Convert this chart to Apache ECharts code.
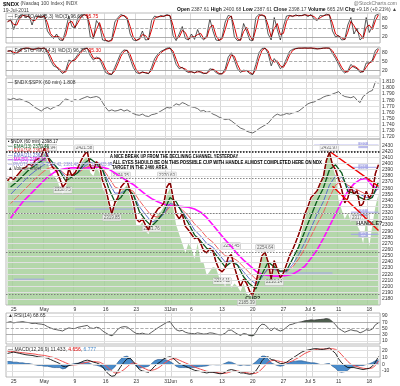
<!DOCTYPE html>
<html><head><meta charset="utf-8">
<script src="https://cdn.jsdelivr.net/npm/echarts@6/dist/echarts.min.js"></script>
<style>html,body{margin:0;padding:0;background:#fff}#c{width:400px;height:386px}</style>
</head><body><div id="c"></div>
<script>
// ---------- data ----------
const dayNames = ['Apr 21','Apr 25','Apr 26','Apr 27','Apr 28','Apr 29',
 'May 2','May 3','May 4','May 5','May 6','May 9','May 10','May 11','May 12','May 13','May 16','May 17','May 18','May 19','May 20','May 23','May 24','May 25','May 26','May 27','May 31',
 'Jun 1','Jun 2','Jun 3','Jun 6','Jun 7','Jun 8','Jun 9','Jun 10','Jun 13','Jun 14','Jun 15','Jun 16','Jun 17','Jun 20','Jun 21','Jun 22','Jun 23','Jun 24','Jun 27','Jun 28','Jun 29','Jun 30',
 'Jul 1','Jul 5','Jul 6','Jul 7','Jul 8','Jul 11','Jul 12','Jul 13','Jul 14','Jul 15','Jul 18','Jul 19'];
const tickDays = [1,6,11,16,21,26,27,30,35,40,45,49,50,54,59];
const tickText = ['25','May','9','16','23','31','Jun','6','13','20','27','Jul','5','11','18'];

const sto1K = [70,80,45,75,90,95,85,92,60,90, 88,85,95,40,25,15,30,10,8,45, 90,55,50,85,92,95,90,20,15,75,
 60,10,8,5,12,70,85,95,90,80, 30,10,8,15,40,10,12,75,90,85, 92,88,95,90,25,8,30,55,15,10,
 30,12,45,20,10,25,80,40,10,8, 20,70,92,88,20,8,10,65,40,10, 8,85,95,92,88,30,10,85,45,10,
 55,90,92,88,94,90,92,95,88,95, 80,75,92,90,96,93,40,20,25,10, 12,60,85,30,50,10,20,85,35,55, 92,96];
const sto1D = [72,75,62,60,82,92,90,88,76,75, 89,86,90,68,32,20,22,20,9,26, 68,72,52,68,88,94,92,55,18,45,
 68,35,9,6,8,41,78,90,92,85, 55,20,9,12,28,25,11,44,82,88, 88,90,92,92,58,16,19,42,35,12,
 20,21,28,32,15,18,52,60,25,9, 14,45,81,90,54,14,9,38,52,25, 9,46,90,94,90,59,20,48,65,28,
 32,72,91,90,91,92,91,94,92,92, 88,78,84,91,93,94,66,30,22,18, 11,36,72,58,40,30,15,52,60,45, 74,94];
const sto2K = [85,88,75,80,92,95,96,95,90,95, 96,94,97,80,55,35,30,18,8,20, 55,50,60,75,88,95,96,70,55,65,
 60,35,12,6,5,30,55,80,90,88, 60,30,12,8,15,10,8,30,60,75, 85,90,96,97,75,40,25,30,18,12,
 15,10,18,12,8,10,25,22,12,6, 8,25,65,80,55,25,12,20,18,8, 5,40,80,95,96,78,35,60,45,25,
 35,60,85,92,95,96,96,97,96,97, 94,93,95,96,97,96,78,60,40,20, 10,18,40,30,25,12,15,45,45,55, 88,96];
const sto2D = [86,86,82,78,86,94,96,96,92,92, 96,95,96,88,68,45,32,24,13,14, 38,52,55,68,82,92,96,83,62,60,
 62,48,24,9,6,18,42,68,85,89, 74,45,21,10,12,12,9,19,45,68, 80,88,93,96,86,58,32,28,24,15,
 14,12,14,15,10,9,18,24,17,9, 7,16,45,72,68,40,18,16,19,13, 6,22,60,88,96,87,56,48,52,35,
 30,48,72,88,94,96,96,96,96,96, 96,94,94,96,96,96,87,69,50,30, 15,14,29,35,28,18,14,30,45,50, 72,92];
const ratio = [1.782,1.781,1.783,1.781,1.782,1.780,1.778,1.776,1.772,1.768,
 1.765,1.762,1.766,1.768,1.765,1.768,1.770,1.772,1.778,1.782,
 1.780,1.778,1.781,1.779,1.782,1.784,1.786,1.784,1.785,1.786,
 1.784,1.776,1.768,1.762,1.764,1.762,1.763,1.765,1.762,1.764,
 1.761,1.758,1.756,1.755,1.757,1.754,1.753,1.756,1.757,1.759,
 1.762,1.765,1.768,1.767,1.770,1.774,1.772,1.776,1.774,1.771,
 1.769,1.768,1.766,1.762,1.763,1.760,1.761,1.757,1.755,1.752,
 1.750,1.748,1.749,1.746,1.742,1.738,1.734,1.732,1.729,1.727,
 1.726,1.729,1.733,1.736,1.739,1.742,1.748,1.754,1.757,1.755,
 1.756,1.758,1.757,1.759,1.760,1.762,1.766,1.770,1.774,1.776,
 1.777,1.780,1.782,1.785,1.787,1.788,1.790,1.792,1.794,1.789,
 1.786,1.785,1.784,1.786,1.780,1.776,1.786,1.790,1.794,1.796,
 1.810,1.808];
const price = [2372,2378,2374,2380,2386,2392,2394,2400,2396,2405,
 2408,2412,2425,2412,2400,2392,2388,2376,2362,2368,
 2392,2380,2385,2394,2405,2414,2420,2396,2388,2403,
 2398,2372,2360,2338,2318,2336,2345,2362,2368,2372,
 2355,2338,2310,2305,2310,2300,2292,2310,2318,2326,
 2330,2336,2362,2370,2345,2318,2310,2318,2298,2292,
 2285,2278,2280,2270,2258,2255,2262,2258,2240,2228,
 2224,2230,2248,2252,2232,2215,2200,2212,2205,2192,
 2186,2205,2228,2250,2256,2240,2212,2242,2228,2214,
 2222,2236,2250,2260,2272,2285,2300,2318,2330,2345,
 2350,2356,2368,2378,2405,2418,2398,2390,2375,2358,
 2336,2344,2362,2350,2356,2330,2335,2355,2344,2352,
 2384,2398];
const fillTop = [2376,2370,2372,2378,2384,2388,2390,2395,2392,2400,
 2405,2410,2418,2405,2385,2380,2375,2362,2350,2360,
 2385,2375,2378,2390,2400,2408,2410,2385,2380,2395,
 2385,2360,2350,2330,2312,2330,2340,2355,2360,2365,
 2345,2325,2300,2298,2305,2290,2285,2300,2310,2318,
 2322,2330,2350,2360,2330,2300,2285,2270,2255,2270,
 2262,2245,2270,2240,2238,2218,2225,2232,2230,2215,
 2210,2200,2215,2198,2205,2200,2192,2205,2188,2186,
 2183,2200,2225,2245,2258,2235,2208,2240,2222,2210,
 2215,2225,2230,2228,2250,2270,2290,2310,2325,2340,
 2348,2355,2365,2378,2405,2420,2395,2380,2340,2325,
 2310,2320,2305,2320,2300,2290,2270,2310,2265,2300,
 2330,2350];
// moving averages, one value per trading day
const ma50 = [2311,2325,2338,2348,2358,2368,2378,2385,2390,2392,
 2393,2393,2393,2393,2394,2394,2391,2385,2378,2372,
 2366,2358,2350,2343,2338,2334,2332,2331,2330,2329,
 2326,2321,2312,2300,2288,2276,2265,2253,2243,2234,
 2225,2220,2218,2217,2217,2218,2220,2226,2233,2246,
 2260,2278,2298,2318,2338,2355,2367,2374,2376,2364,2358];
const ema34 = [2335,2345,2355,2365,2375,2384,2392,2394,2390,2382,
 2382,2385,2392,2397,2396,2392,2378,2362,2358,2360,
 2355,2340,2327,2315,2313,2318,2330,2332,2325,2315,
 2302,2292,2280,2272,2260,2250,2248,2242,2232,2222,
 2212,2218,2228,2228,2225,2224,2232,2245,2262,2282,
 2302,2320,2345,2365,2372,2365,2360,2355,2350,2350,2361];
const ema21 = [2350,2360,2370,2380,2388,2395,2402,2398,2390,2378,
 2380,2385,2395,2402,2398,2390,2370,2352,2352,2358,
 2350,2330,2317,2305,2308,2318,2335,2333,2322,2308,
 2292,2282,2270,2264,2252,2240,2242,2236,2224,2212,
 2204,2215,2230,2228,2224,2224,2236,2252,2272,2295,
 2318,2338,2365,2380,2378,2362,2356,2350,2345,2346,2362];
const ema13 = [2362,2370,2380,2390,2397,2404,2412,2400,2388,2372,
 2378,2386,2400,2408,2400,2390,2360,2338,2345,2360,
 2350,2322,2308,2298,2308,2322,2345,2338,2320,2303,
 2284,2274,2262,2258,2245,2232,2240,2235,2216,2204,
 2196,2220,2240,2232,2225,2226,2245,2265,2290,2315,
 2340,2360,2390,2398,2385,2355,2352,2345,2340,2345,2370];
const levelPrices = [2419, 2376, 2320, 2256, 2187];
const pivotSegs = [[0,12,2406],[0,4,2359],[2,12,2338],[2,12,2212],[22,42,2326],[80,98,2239],[90,106,2222],
 [100,121,2430],[100,112,2410],[112,121,2394],[112,121,2321],[112,121,2285]];
const pivotTags = [[116,2430,'R2'],[116,2394,'R1'],[116,2321,'S1'],[116,2285,'S2']];
const channelUpper = [[105,2420],[121,2363]];
const channelLower = [[106,2363],[121,2291]];
const priceTags = [[13,2426,'2426.94'],[25,2425,'2421.58'],[18,2357,'2358.75'],[37,2381,'2374.35'],[52,2381,'2370.63'],
 [34,2312,'2319.85'],[47,2294,'2291.76'],[73,2266,'2252.45'],[70,2209,'2214.11'],[78,2174,'2185.39'],
 [84,2263,'2254.64'],[87,2207,'2210.14'],[105,2426,'2431.97'],[115,2312,'2317.79']];
const noteTags = [[80,2180,'CUP?'],[118,2303,'HANDLE?']];
const rsi = [70,72,68,70,71,72,70,69,66,67, 65,64,62,56,52,48,46,44,42,48, 52,50,50,54,56,58,60,52,50,54,
 52,42,36,30,27,36,48,54,56,55, 48,40,34,33,35,32,31,38,45,52, 58,64,70,72,58,46,42,44,38,35,
 34,33,36,34,32,33,36,35,32,30, 30,35,44,45,38,32,28,34,32,27, 26,38,55,64,62,52,42,52,46,42,
 46,54,62,64,68,70,72,75,76,78, 77,78,79,80,82,80,72,62,50,44, 38,42,46,43,42,36,40,46,44,48, 62,68];
const macd = [16,17,18,17,16,15,14,13.5,13,12, 11,10.5,10,9,7,5,3,1,-3,-4, -2,-1,0,1,3,5,6,5,3,2,
 0,-4,-10,-15,-18,-17,-10,-3,3,8, 9,4,-2,-8,-10,-11,-12,-8,-3,1, 4,8,10,11,9,5,1,-1,-3,-5,
 -7,-9,-10,-11,-12,-13,-12,-12,-13,-14, -14,-12,-9,-8,-9,-11,-13,-13,-14,-15, -14,-10,-3,5,10,11,7,6,3,1,
 1,3,6,9,12,15,18,20,21,22, 23,23,22,22,23,24,20,16,8,2, -2,-5,-5,-5,-6,-7,-8,-7,-6,-3, 3,11.4];
const macdSignal = [19,19,18.5,18,17.5,17,16.5,16,15.5,15, 14,13.5,13,12,11,10,8,6,4,2, 0,-1,-1,-0.5,0.5,2,3,4,4,3.5,
 3,1,-2,-6,-10,-13,-13,-11,-8,-4, 0,2,1,-2,-5,-7,-9,-9,-8,-6, -3,1,4,7,8,8,6,4,2,0,
 -2,-4,-6,-7.5,-9,-10.5,-11,-11.5,-12,-13, -13.5,-13.5,-12.5,-11,-10,-10,-11,-12,-12.5,-13.5, -14,-13.5,-11,-7,-2,3,5,6,5,4,
 3,2.5,3.5,5,7.5,10,13,16,18,20, 21,22,22.5,22.5,22.5,23,23,22,19,14, 9,4,0,-2,-3.5,-5,-6,-6.5,-6.5,-5.5, -2,4.66];
const macdHist = [4,4,3,3,2,2,1,1,0,-1, -2,-2,-3,-3,-4,-5,-5,-5,-7,-6, -2,0,1,1.5,2.5,3,3,1,-1,-1.5,
 -3,-5,-8,-9,-8,-4,3,8,11,12, 9,2,-3,-6,-5,-4,-3,1,5,7, 7,7,6,4,1,-3,-5,-5,-5,-5,
 -5,-5,-4,-3.5,-3,-2.5,-1,-0.5,-1,-1, -0.5,1.5,3.5,3,1,-1,-2,-1,-1.5,-1.5, 0,3.5,8,12,12,8,2,0,-2,-3,
 -2,0.5,2.5,4,4.5,5,5,4,3,2, 2,1,-0.5,-0.5,0.5,1,-3,-6,-11,-12, -11,-9,-5,-3,-2.5,-2,-2,-0.5,0.5,2.5, 5,6.78];
const stoTicks = [20,50,80];
const ratioTicks = [1.72,1.73,1.74,1.75,1.76,1.77,1.78,1.79,1.80,1.81];
const priceTicks = [2180,2190,2200,2210,2220,2230,2240,2250,2260,2270,2280,2290,2300,2310,2320,2330,2340,2350,2360,2370,2380,2390,2400,2410,2420,2430];
const rsiTicks = [10,30,50,70,90];
const macdTicks = [-10,0,10,20];

// ---------- chart ----------
const FONT = 'Liberation Sans, Arial, sans-serif';
const slots = dayNames.flatMap(d => [d + ' am', d + ' pm']);
const labelMap = new Map(tickDays.map((d, i) => [2 * d, tickText[i]]));
const L = 6, W = 374;
const grids = [[13,30],[47,29],[78,61],[139,166],[313,31],[346,31]];
const yRanges = [[0,100],[0,100],[1.716,1.8165],[2170,2440],[0,100],[-19,27]];

function gridLines(ticks, fmt, styleFn) {
  return {
    silent: true, symbol: 'none', animation: false,
    label: { show: true, position: 'end', distance: 2, fontSize: 5, color: '#333', fontFamily: FONT, formatter: p => fmt(p.value) },
    lineStyle: { color: '#e0e0e0', width: 1, type: 'solid' },
    emphasis: { disabled: true },
    data: ticks.map(v => { const o = { yAxis: v }; const s = styleFn && styleFn(v); if (s) o.lineStyle = s; return o; })
  };
}
function line(gi, data, color, width, extra) {
  return Object.assign({ type: 'line', xAxisIndex: gi, yAxisIndex: gi, data, showSymbol: false, symbol: 'none',
    lineStyle: { color, width }, silent: true, animation: false }, extra || {});
}
const oscStyle = v => v === 50 ? { color: '#999', type: 'dashed', width: 0.8 } : { color: '#999', width: 0.8 };
const rsiStyle = v => v === 50 ? { color: '#999', type: 'dashed', width: 0.8 } : (v === 70 || v === 30 ? { color: '#999', width: 0.8 } : null);

const series = [];
series.push(line(0, sto1D, '#e00000', 1, { markLine: gridLines(stoTicks, v => String(v), oscStyle) }));
series.push(line(0, sto1K, '#111', 0.7));
series.push(line(1, sto2D, '#e00000', 1, { markLine: gridLines(stoTicks, v => String(v), oscStyle) }));
series.push(line(1, sto2K, '#111', 0.7));
series.push(line(2, ratio, '#444', 0.8, { markLine: gridLines(ratioTicks, v => v.toFixed(3)) }));
series.push(line(3, fillTop, '#a1cd95', 0, { z: 1, lineStyle: { width: 0 }, areaStyle: { color: '#a1cd95', opacity: 0.8, origin: 'start' },
  markLine: gridLines(priceTicks, v => String(v)) }));
pivotSegs.forEach(s => series.push(line(3, [[s[0], s[2]], [s[1], s[2]]], '#a3a3e8', 1)));
series.push(line(3, ma50.map((v, d) => [2 * d + 1, v]), '#ff10ff', 1.6));
series.push(line(3, ema34.map((v, d) => [2 * d + 1, v]), '#f06060', 1));
series.push(line(3, ema21.map((v, d) => [2 * d + 1, v]), '#5d6ec8', 1));
series.push(line(3, ema13.map((v, d) => [2 * d + 1, v]), '#0b5a1e', 1.3));
series.push(line(3, price, '#d80000', 1.5));
series.push(line(3, price, '#111', 0.6, { markLine: {
  silent: true, symbol: 'none', animation: false, label: { show: false },
  data: levelPrices.map((v, i) => ({ yAxis: v, lineStyle: i === 0 ? { color: '#111', width: 1.6, type: [1.5, 1.5] } : { color: '#777', width: 0.9, type: [1.5, 1.5] } }))
} }));
series.push(line(3, channelUpper, '#ee0000', 1.4));
series.push(line(3, channelLower, '#ee0000', 1.4));
series.push({ type: 'scatter', xAxisIndex: 3, yAxisIndex: 3, data: priceTags, symbolSize: 0, silent: true, animation: false,
  label: { show: true, position: 'inside', formatter: p => p.data[2], fontSize: 4.5, color: '#444', fontFamily: FONT,
    backgroundColor: '#f2f2f2', borderColor: '#b0b0b0', borderWidth: 0.5, padding: [0.5, 1] } });
series.push({ type: 'scatter', xAxisIndex: 3, yAxisIndex: 3, data: pivotTags, symbolSize: 0, silent: true, animation: false,
  label: { show: true, position: 'inside', formatter: p => p.data[2], fontSize: 4.5, color: '#fff', fontFamily: FONT,
    backgroundColor: '#a9a9e6', padding: [0.5, 2] } });
series.push({ type: 'scatter', xAxisIndex: 3, yAxisIndex: 3, data: noteTags, symbolSize: 0, silent: true, animation: false,
  label: { show: true, position: 'inside', formatter: p => p.data[2], fontSize: 5.5, fontWeight: 'bold', color: '#000', fontFamily: FONT } });
series.push(line(4, rsi.map(v => Math.max(v, 70)), '#4b5b4b', 0, { lineStyle: { width: 0 }, areaStyle: { color: '#4e5e4e', origin: 70, opacity: 1 } }));
series.push(line(4, rsi.map(v => Math.min(v, 30)), '#4b5b4b', 0, { lineStyle: { width: 0 }, areaStyle: { color: '#4e5e4e', origin: 30, opacity: 1 } }));
series.push(line(4, rsi, '#333', 0.8, { markLine: gridLines(rsiTicks, v => String(v), rsiStyle) }));
series.push(line(5, macdHist, '#1f4f86', 0.6, { areaStyle: { color: '#4a8ccb', origin: 0, opacity: 1 }, markLine: gridLines(macdTicks, v => String(v)) }));
series.push(line(5, macdSignal, '#f05050', 1));
series.push(line(5, macd, '#111', 0.9));

function T(x, y, text, o) {
  o = o || {};
  const el = { type: 'text', x, y, silent: true, z: 50, style: Object.assign({ text, font: (o.w || 'normal') + ' ' + (o.s || 5) + 'px ' + (o.f || FONT),
    fill: o.c || '#333', textAlign: o.a || 'left', textVerticalAlign: 'top' }, o.rich ? { rich: o.rich } : {}) };
  if (o.sx) el.scaleX = o.sx;
  return el;
}
const graphic = [
  T(3, 1, '{b|$NDX} (Nasdaq 100 Index) INDX', { rich: { b: { fontWeight: 'bold', fontSize: 6, fontFamily: FONT, fill: '#111' } }, c: '#444' }),
  T(3, 8, '19-Jul-2011', { c: '#444' }),
  T(397, 1, '@StockCharts.com', { a: 'right', c: '#777' }),
  T(397, 7.5, '{b|Open} 2387.61 {b|High} 2400.68 {b|Low} 2387.61 {b|Close} 2398.17 {b|Volume} 665.2M {b|Chg} +9.18 (+0.21%) ▲',
    { a: 'right', c: '#444', rich: { b: { fontWeight: 'bold', fontSize: 5, fontFamily: FONT, fill: '#111' } } }),
  T(8, 14, '— Full STO %K(5,3) %D(3) 96.69, {r|95.75}', { rich: { r: { fill: '#e00000', fontSize: 5, fontFamily: FONT } } }),
  T(8, 48, '— Full STO %K(14,3) %D(3) 96.73, {r|95.30}', { rich: { r: { fill: '#e00000', fontSize: 5, fontFamily: FONT } } }),
  T(8, 80, '— $NDX:$SPX (60 min) 1.808'),
  T(8, 139.5, '▪ $NDX (60 min) 2398.17', { c: '#111', sx: 0.9 }),
  T(8, 144, '— EMA(13) 2370.46', { c: '#0b5a1e', sx: 0.9 }),
  T(8, 148.5, '— EMA(34) 2361.46', { c: '#e04848', sx: 0.9 }),
  T(8, 153, '— EMA(21) 2362.45', { c: '#5d6ec8', sx: 0.9 }),
  T(8, 157.5, '— MA(50) 2357.36', { c: '#ee00ee', sx: 0.9 }),
  T(8, 162, '— PIVOTS 2301.75, 2317.42, 2381.48, 2397.11, 2425.94', { c: '#8a8ad8', sx: 0.82 }),
  T(8, 166.5, '▲ Volume undef', { c: '#333', sx: 0.9 }),
  T(110, 154.5, 'A NICE BREAK UP FROM THE DECLINING CHANNEL YESTERDAY', { w: 'bold', s: 5, c: '#000', sx: 0.81 }),
  T(110, 160, '- ALL EYES SHOULD BE ON THIS POSSIBLE CUP WITH HANDLE ALMOST COMPLETED HERE ON NDX', { w: 'bold', s: 5, c: '#000', sx: 0.86 }),
  T(112, 165.5, 'TARGET IN THE 2460 AREA', { w: 'bold', s: 5, c: '#000', sx: 0.84 }),
  T(8, 313.5, '▲ RSI(14) 68.65'),
  T(8, 347, '— MACD(12,26,9) 11.433, {r|4.656}, {b|6.777}', { rich: { r: { fill: '#e00000', fontSize: 5, fontFamily: FONT }, b: { fill: '#4a8ccb', fontSize: 5, fontFamily: FONT } } })
];

const option = {
  animation: false,
  backgroundColor: '#fff',
  grid: grids.map(g => ({ left: L, top: g[0], width: W, height: g[1], show: true, borderColor: '#a8a8a8', borderWidth: 0.8 })),
  xAxis: grids.map((g, i) => ({
    type: 'category', gridIndex: i, data: slots, boundaryGap: true,
    axisLine: { show: false }, axisTick: { show: false },
    axisLabel: { show: i === 3 || i === 5, interval: idx => labelMap.has(idx), formatter: (v, idx) => labelMap.get(idx) || '',
      fontSize: 5, color: '#333', margin: 2, fontFamily: FONT },
    splitLine: { show: true, interval: idx => labelMap.has(idx), lineStyle: { color: '#cfcfcf', width: 0.8 } }
  })),
  yAxis: yRanges.map((r, i) => ({ type: 'value', gridIndex: i, min: r[0], max: r[1], show: false, splitLine: { show: false } })),
  series,
  graphic
};
const chart = echarts.init(document.getElementById('c'), null, { renderer: 'canvas' });
chart.setOption(option);
</script></body></html>
